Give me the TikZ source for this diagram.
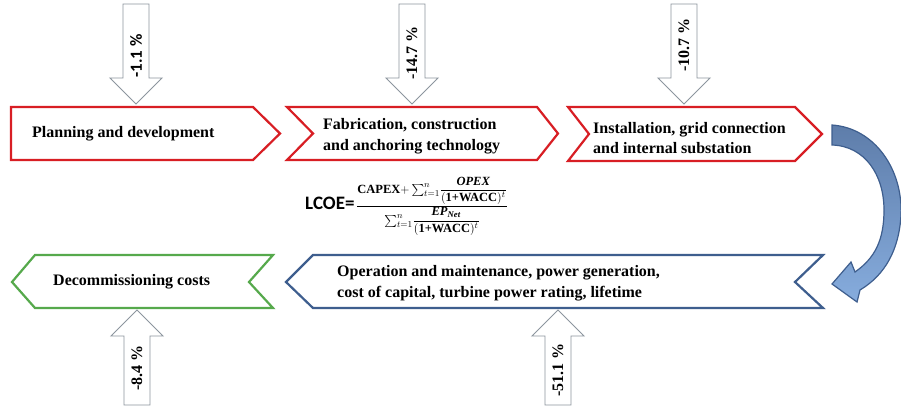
\documentclass[tikz,border=0pt]{standalone}
\usepackage{fontspec}
\usepackage{amsmath}
\setmainfont{Liberation Serif}
\newfontfamily\calibri{Carlito}
\usetikzlibrary{positioning}
\definecolor{stagered}{HTML}{D81E24}
\definecolor{stagegreen}{HTML}{56A94C}
\definecolor{stageblue}{HTML}{3E5E8E}
\definecolor{sharegrey}{HTML}{8C959E}
\definecolor{loopdark}{HTML}{5E7DAA}
\definecolor{looplight}{HTML}{86ACDD}
\tikzset{
	stage/.style={line width=2.2pt, line join=miter, fill=white},
	stagetext/.style={anchor=west, align=left, inner sep=0pt, font=\bfseries\fontsize{16}{20.5}\selectfont},
	share/.style={draw=sharegrey, line width=0.9pt, fill=white},
	sharetext/.style={rotate=90, inner sep=0pt, font=\bfseries\fontsize{16}{18}\selectfont},
	downshare/.pic={\draw[share] (0,0) -- (26,-26) -- (13,-26) -- (13,-100) -- (-13,-100) -- (-13,-26) -- (-26,-26) -- cycle;},
	upshare/.pic={\draw[share] (0,0) -- (26,26) -- (13,26) -- (13,95) -- (-13,95) -- (-13,26) -- (-26,26) -- cycle;}
}
\begin{document}
\begin{tikzpicture}[x=1pt, y=-1pt]
	\useasboundingbox[fill=white] (0,0) rectangle (901,407);

	% Cost shares pointing at the stages
	\pic at (136,104) {downshare};
	\pic at (412,104) {downshare};
	\pic at (684,104) {downshare};
	\pic at (137,310) {upshare};
	\pic at (558,310) {upshare};
	\node[sharetext, font=\calibri\bfseries\fontsize{17}{18}\selectfont] (sharePlan) at (136,56) {-1.1 \%};
	\node[sharetext] (shareFab) at (412,53) {-14.7 \%};
	\node[sharetext] (shareInst) at (684,45) {-10.7 \%};
	\node[sharetext] (shareDecom) at (137,368) {-8.4 \%};
	\node[sharetext] (shareOper) at (558,370) {-51.1 \%};

	% Project stages, top row
	\draw[stage, draw=stagered] (11,107) -- (253,107) -- (280,133.5) -- (253,160) -- (11,160) -- cycle;
	\draw[stage, draw=stagered] (287,107) -- (537,107) -- (558,133.5) -- (537,160) -- (287,160) -- (313,133.5) -- cycle;
	\draw[stage, draw=stagered] (568,107) -- (795,107) -- (822,134) -- (795,161) -- (568,161) -- (589,134) -- cycle;
	\node[stagetext] (plan) at (32,133.5) {Planning and development};
	\node[stagetext] (fab) at (323,136) {Fabrication, construction\\and anchoring technology};
	\node[stagetext] (inst) at (593,138) {Installation, grid connection\\and internal substation};

	% Project stages, bottom row
	\draw[stage, draw=stagegreen] (12,282) -- (35,255) -- (273,255) -- (249,282) -- (273,308) -- (35,308) -- cycle;
	\draw[stage, draw=stageblue] (286,282) -- (313,255) -- (823,255) -- (795,282) -- (823,308) -- (313,308) -- cycle;
	\node[stagetext] (decom) at (53,282) {Decommissioning costs};
	\node[stagetext] (oper) at (337,283) {Operation and maintenance, power generation,\\cost of capital, turbine power rating, lifetime};

	% Curved arrow from the top row down to the bottom row
	\path[draw=stageblue, line width=1.2pt, top color=loopdark, bottom color=looplight]
		(832,125) .. controls (875,128) and (903,170) .. (901,215)
		.. controls (899,250) and (885,275) .. (860,290)
		-- (857,302) -- (832,284) -- (851,262) -- (855,272)
		.. controls (875,258) and (884,240) .. (884,210)
		.. controls (884,175) and (865,146) .. (832,145) -- cycle;

	% LCOE formula
	\node[anchor=west, inner sep=0pt] (lcoe) at (305,206) {{\calibri\bfseries\fontsize{19}{22}\selectfont LCOE=}\,\fontsize{12.5}{14}\selectfont
		$\dfrac{\textbf{CAPEX}{+}\textstyle\sum_{t=1}^{n}\!\dfrac{\textbf{\textit{OPEX}}}{(\textbf{1+WACC})^{t}}}{\textstyle\sum_{t=1}^{n}\!\dfrac{\textbf{\textit{EP}}_{\textbf{\textit{Net}}}}{(\textbf{1+WACC})^{t}}}$};
\end{tikzpicture}
\end{document}
